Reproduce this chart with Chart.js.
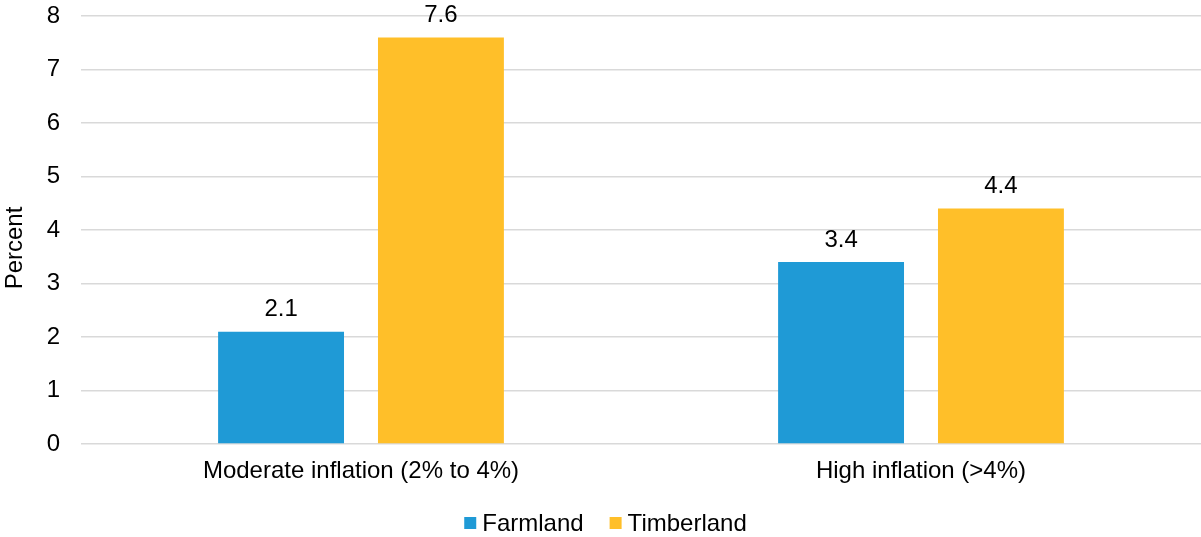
<!DOCTYPE html>
<html>
<head>
<meta charset="utf-8">
<script src="https://cdn.jsdelivr.net/npm/chart.js@4/dist/chart.umd.min.js"></script>
<style>
  html, body { margin: 0; padding: 0; background: #fff; }
  #wrap { width: 1201px; height: 537px; }
</style>
</head>
<body>
<div id="wrap"><canvas id="chart" width="1201" height="537"></canvas></div>
<script>
const categories = ['Moderate inflation (2% to 4%)', 'High inflation (>4%)'];
const farmland = [2.1, 3.4];
const timberland = [7.6, 4.4];
const yTicks = [0, 1, 2, 3, 4, 5, 6, 7, 8];

const FONT = '"Liberation Sans", Arial, sans-serif';
const SIZE = 24;

// value labels above each bar
const barLabels = {
  id: 'barLabels',
  afterDatasetsDraw(chart) {
    const ctx = chart.ctx;
    ctx.save();
    ctx.font = SIZE + 'px ' + FONT;
    ctx.fillStyle = '#000';
    ctx.textAlign = 'center';
    ctx.textBaseline = 'bottom';
    chart.data.datasets.forEach((ds, i) => {
      chart.getDatasetMeta(i).data.forEach((bar, j) => {
        ctx.fillText(ds.data[j].toFixed(1), bar.x, bar.y - 10);
      });
    });
    ctx.restore();
  }
};

// y title centred on the full canvas height, plus a compact legend at the bottom
const extras = {
  id: 'extras',
  afterDraw(chart) {
    const ctx = chart.ctx;
    ctx.save();
    ctx.font = SIZE + 'px ' + FONT;
    ctx.fillStyle = '#000';
    ctx.textBaseline = 'middle';

    ctx.save();
    ctx.translate(15, 248);
    ctx.rotate(-Math.PI / 2);
    ctx.textAlign = 'center';
    ctx.fillText('Percent', 0, 0);
    ctx.restore();

    const box = 12, gap = 6, spacing = 26;
    const items = chart.data.datasets.map(ds => ({
      text: ds.label, color: ds.backgroundColor, w: box + gap + ctx.measureText(ds.label).width
    }));
    const total = items.reduce((s, it) => s + it.w, 0) + spacing * (items.length - 1);
    let x = chart.width / 2 - total / 2 + 5;
    const y = 523;
    ctx.textAlign = 'left';
    items.forEach(it => {
      ctx.fillStyle = it.color;
      ctx.fillRect(x, y - box / 2, box, box);
      ctx.fillStyle = '#000';
      ctx.fillText(it.text, x + box + gap, y + 1);
      x += it.w + spacing;
    });
    ctx.restore();
  }
};

new Chart(document.getElementById('chart'), {
  type: 'bar',
  data: {
    labels: categories,
    datasets: [
      { label: 'Farmland', data: farmland, backgroundColor: '#1F9AD6' },
      { label: 'Timberland', data: timberland, backgroundColor: '#FFBF29' }
    ]
  },
  options: {
    responsive: false,
    animation: false,
    layout: { padding: { top: 16, right: 0, bottom: 52, left: 0 } },
    datasets: { bar: { categoryPercentage: 0.571, barPercentage: 0.7875 } },
    plugins: {
      legend: { display: false },
      tooltip: { enabled: false }
    },
    scales: {
      x: {
        grid: { display: false },
        border: { display: false },
        ticks: { font: { family: FONT, size: SIZE }, color: '#000', padding: 5 },
        afterFit(scale) { scale.height = 41; }
      },
      y: {
        min: 0,
        max: 8,
        afterBuildTicks(scale) { scale.ticks = yTicks.map(v => ({ value: v })); },
        grid: { color: '#D9D9D9', lineWidth: 1.5, drawTicks: false },
        border: { display: false },
        ticks: { font: { family: FONT, size: SIZE }, color: '#000', padding: 21 },
        afterFit(scale) {
          scale.width = 81;
          scale.paddingTop = 0;
          scale.paddingBottom = 0;
        }
      }
    }
  },
  plugins: [barLabels, extras]
});
</script>
</body>
</html>
